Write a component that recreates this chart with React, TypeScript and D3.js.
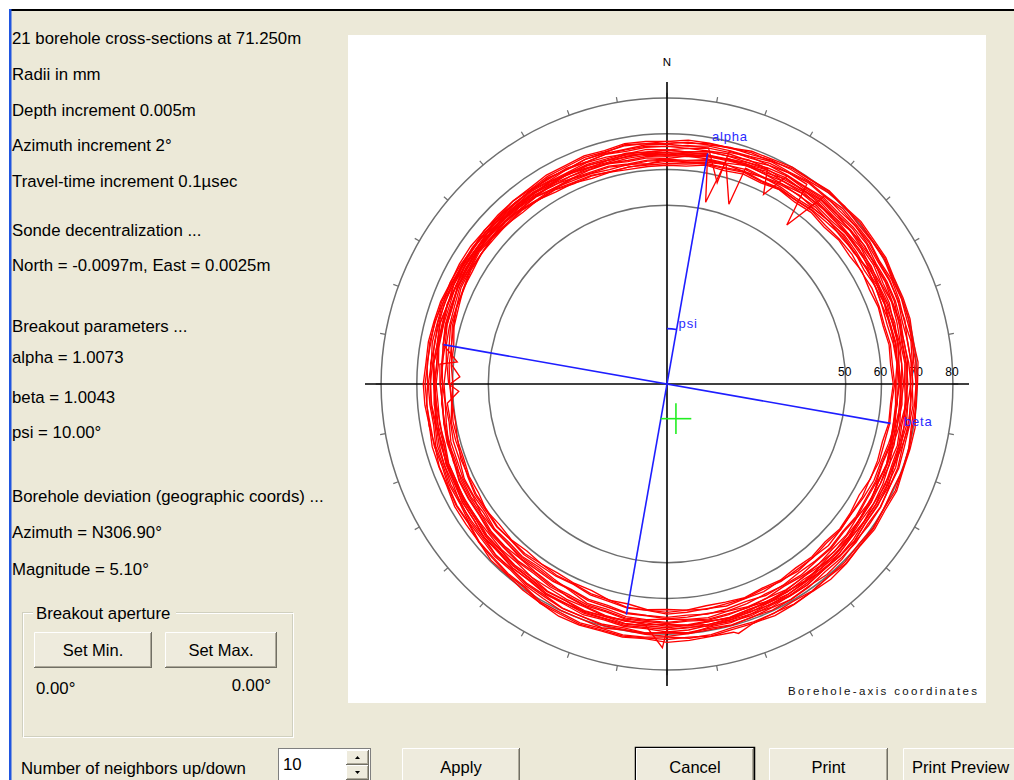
import React from 'react';
import * as d3 from 'd3';

// ---------- text content ----------
const infoLines = [
  '21 borehole cross-sections at 71.250m',
  'Radii in mm',
  'Depth increment 0.005m',
  'Azimuth increment 2°',
  'Travel-time increment 0.1µsec',
  'Sonde decentralization ...',
  'North = -0.0097m, East = 0.0025m',
  'Breakout parameters ...',
  'alpha = 1.0073',
  'beta = 1.0043',
  'psi =  10.00°',
  'Borehole deviation (geographic coords) ...',
  'Azimuth = N306.90°',
  'Magnitude = 5.10°',
];
const infoBaselines = [44, 80, 116, 151, 187, 236, 271, 332, 363, 403, 438, 502, 538, 575];

const ringRadii = [50, 60, 70, 80];
const ringLabels = ['50', '60', '70', '80'];
const axisExtent = 84.5; // mm
const apertureMin = '0.00°';
const apertureMax = '0.00°';
const neighbors = '10';

// breakout geometry (mm / degrees, borehole-axis coords)
const psiDeg = 10;
const alphaLen = 65.5;
const betaLen = 63.5;
const psiArcRadius = 15.5;
const sondeNorth = -9.7; // mm
const sondeEast = 2.5; // mm
const crossArm = 4.3; // mm

// ---------- cross-section radii, tenths of mm, every 5° azimuth from N ----------
const section01 = [612,612,622,618,625,621,628,622,627,621,627,624,630,625,629,626,631,628,633,628,630,624,627,628,621,627,631,625,631,628,634,630,636,632,630,635,631,634,625,626,615,615,611,614,610,616,612,617,609,611,606,607,601,603,599,606,606,617,621,629,629,635,632,633,627,629,621,620,612,614,610,611];
const section02 = [623,622,630,636,632,638,636,633,639,643,637,642,637,644,640,638,643,646,639,642,643,648,654,652,656,650,656,654,659,657,654,661,663,658,664,661,658,662,661,652,653,639,631,625,630,626,630,622,625,626,618,619,615,617,611,618,619,627,627,636,637,642,637,640,637,631,633,627,626,621,624,619];
const section03 = [631,640,640,640,650,648,646,653,651,648,654,657,651,654,650,654,657,651,653,656,650,653,656,649,660,660,664,670,667,674,671,669,675,679,673,676,678,671,674,670,663,657,647,642,638,642,642,635,636,636,629,633,627,623,628,632,630,637,639,645,641,646,648,642,644,641,642,634,637,638,632,635];
const section04 = [648,646,655,654,654,661,666,662,666,661,668,665,667,662,669,666,663,668,665,670,663,667,661,666,668,664,669,668,673,667,673,673,671,677,675,679,673,676,671,673,677,677,679,672,672,665,668,661,661,654,657,653,656,650,653,657,652,657,652,658,655,654,650,652,649,651,645,650,645,642,647,649];
const section05 = [655,662,662,667,665,675,674,674,681,678,681,682,675,679,680,677,673,679,682,676,680,675,681,679,681,678,685,682,680,686,686,684,690,688,685,691,694,687,689,683,687,680,679,670,672,667,668,660,661,657,658,651,657,652,649,655,653,658,653,658,660,655,657,658,655,659,655,654,659,657,654,659];
const section06 = [671,668,676,676,678,687,685,691,688,695,692,693,687,693,691,687,693,689,686,691,687,680,675,683,679,678,684,683,680,686,685,690,685,691,690,701,706,703,699,706,700,700,693,689,680,682,676,676,669,671,667,670,663,666,668,662,667,665,667,662,664,665,661,665,662,662,666,662,669,668,667,672];
const section07 = [679,685,684,684,693,694,701,699,706,702,708,705,707,701,703,704,699,705,701,698,705,704,703,709,705,709,705,710,713,709,712,715,711,719,717,720,723,715,719,715,718,717,708,704,697,697,687,686,686,679,679,680,675,680,682,677,678,675,674,669,671,671,667,669,669,669,675,674,679,676,683,681];
const section08 = [617,618,627,627,633,627,632,628,634,636,641,639,648,643,649,647,651,646,649,644,648,642,637,639,635,631,634,639,634,639,635,641,639,643,638,641,644,636,637,630,628,619,621,620,623,618,622,618,620,615,610,612,613,605,608,612,612,622,626,629,637,635,638,635,635,628,629,622,621,614,617,615];
const section09 = [629,628,637,638,643,639,646,643,646,642,648,646,644,649,648,644,649,647,651,645,647,649,643,647,645,649,645,650,648,653,651,649,654,657,652,655,657,651,652,646,645,636,638,635,637,631,633,634,627,629,625,626,619,622,624,620,627,630,633,640,640,645,640,643,639,640,633,634,630,631,625,629];
const section10 = [637,646,646,651,649,657,654,659,655,661,659,663,657,660,662,656,661,659,662,657,661,655,662,659,660,658,664,662,665,661,667,670,664,668,671,666,670,667,668,660,661,655,655,648,650,647,648,641,642,642,635,637,634,630,635,638,636,642,643,644,650,647,650,647,649,643,645,641,643,638,641,643];
const section11 = [653,652,660,660,660,667,672,668,673,672,669,675,671,674,671,675,669,672,674,668,674,672,675,670,674,673,671,677,680,675,679,682,678,683,682,685,687,679,682,678,679,670,671,665,665,658,660,655,656,649,651,647,644,648,650,646,650,650,654,651,656,654,651,655,653,655,649,653,651,648,653,652];
const section12 = [665,662,670,671,677,675,682,682,688,684,688,685,682,686,688,681,684,686,681,685,684,682,687,686,689,685,690,689,687,693,696,691,695,698,694,698,696,699,693,696,693,692,683,682,676,677,668,668,668,661,663,660,656,661,663,658,661,660,663,659,661,663,658,661,659,662,657,663,661,665,661,665];
const section13 = [673,679,679,685,684,691,693,693,700,703,697,699,701,695,698,695,698,693,697,695,694,700,702,697,700,703,699,704,703,707,703,708,708,706,712,714,708,711,713,708,711,706,705,693,692,687,686,677,679,675,670,674,672,675,670,674,671,673,666,670,667,663,668,665,669,665,670,670,675,672,677,675];
const section14 = [626,626,635,635,639,636,642,645,640,643,645,641,645,643,641,647,645,648,643,647,643,646,641,644,642,646,642,647,646,644,650,653,647,651,654,649,653,650,650,641,641,634,635,630,633,631,633,627,633,632,636,630,634,631,634,630,636,638,638,646,645,648,640,643,638,639,630,632,627,628,622,626];
const section15 = [665,670,670,675,673,681,682,688,685,690,688,690,685,688,686,689,683,686,688,683,688,687,690,686,690,689,687,693,696,691,695,698,694,699,698,701,696,700,697,699,693,693,687,685,676,678,672,672,665,667,663,665,659,663,661,664,659,664,661,664,660,664,662,664,659,664,662,666,661,666,665,668];
const section16 = [639,639,647,647,652,648,654,654,658,654,658,656,660,654,658,660,655,659,657,660,654,658,656,659,654,659,658,663,658,662,665,661,666,665,668,663,667,664,665,657,657,650,651,644,647,644,645,639,640,640,633,635,631,633,628,633,635,641,640,647,646,650,645,648,645,646,639,641,638,640,635,639];
const section17 = [655,652,660,661,667,665,672,672,677,673,677,674,671,676,677,671,674,676,671,675,674,677,672,677,675,673,679,682,677,681,684,680,685,684,688,683,687,684,686,680,682,676,676,666,667,663,663,655,657,653,654,647,651,648,651,647,651,651,654,651,655,653,656,650,654,652,654,650,654,652,656,651];
const section18 = [643,651,651,652,659,663,659,664,661,657,654,652,655,650,655,653,656,651,655,653,655,650,654,652,656,658,668,671,667,672,671,675,671,676,675,678,673,676,672,673,665,665,660,660,653,655,651,652,651,653,655,656,651,654,652,656,646,647,647,652,648,653,651,653,647,650,647,649,643,647,645,648];
const section19 = [629,623,624,624,630,625,629,628,632,627,630,632,628,633,632,630,635,633,637,631,633,630,632,627,631,630,634,630,635,634,638,634,638,637,640,635,639,635,635,625,624,617,618,614,619,617,620,615,617,613,614,606,608,604,607,604,613,618,627,627,634,634,637,631,633,628,627,618,619,615,616,618];
const section20 = [679,676,683,683,689,688,697,698,704,700,704,701,704,697,699,700,695,699,697,700,697,702,701,705,700,705,704,709,704,708,711,707,712,711,716,711,715,713,716,712,715,710,709,696,695,690,688,679,681,677,678,672,676,674,677,672,674,671,671,666,662,660,663,657,662,661,665,663,669,670,680,675];
const section21 = [643,642,650,650,655,652,663,663,671,667,671,669,673,667,670,672,667,671,669,672,667,671,669,673,668,672,671,676,672,676,679,675,680,679,683,678,682,679,680,673,675,669,669,660,662,658,658,651,653,649,650,643,646,643,646,642,648,648,653,650,654,653,656,650,653,650,653,647,650,648,651,645];

const sections = [
  section01, section02, section03, section04, section05, section06, section07,
  section08, section09, section10, section11, section12, section13, section14,
  section15, section16, section17, section18, section19, section20, section21,
];
const sampleStepDeg = 5;

// isolated spikes (section number, azimuth °, radius mm)
const spikeSection = [4, 9, 15, 12, 17, 2, 19, 10, 11, 7];
const spikeAz = [12, 19, 14, 37, 27, 268, 272, 276, 181, 164];
const spikeR = [52.0, 53.2, 58.0, 55.7, 59.5, 58.3, 58.0, 59.0, 73.8, 72.6];

// ---------- layout ----------
const W = 1014;
const H = 780;
const cx = 667;
const cy = 384;
const BG = '#ECE9D8';
const UIFONT = '"Liberation Sans", Arial, sans-serif';
const INFO_SIZE = 16.8;

const rScale = d3.scaleLinear().domain([0, axisExtent]).range([0, 302]);
const rad = (deg: number) => (deg * Math.PI) / 180;
const polar = (az: number, r: number): [number, number] => [
  cx + rScale(r) * Math.sin(rad(az)),
  cy - rScale(r) * Math.cos(rad(az)),
];

function Button({ x, y, w, h, label, isDefault = false, anchorX, textY }: any) {
  return (
    <g>
      {isDefault && <rect x={x - 0.5} y={y - 0.5} width={w + 1} height={h + 1} fill="none" stroke="#000" strokeWidth={1.5} />}
      <rect x={x} y={y} width={w} height={h} fill="#EEEBDD" />
      <line x1={x + 0.5} y1={y + 0.5} x2={x + w - 1} y2={y + 0.5} stroke="#fff" />
      <line x1={x + 0.5} y1={y + 0.5} x2={x + 0.5} y2={y + h - 1} stroke="#fff" />
      <line x1={x + w - 0.5} y1={y} x2={x + w - 0.5} y2={y + h} stroke="#716F64" />
      <line x1={x} y1={y + h - 0.5} x2={x + w} y2={y + h - 0.5} stroke="#716F64" />
      <line x1={x + w - 1.5} y1={y + 1} x2={x + w - 1.5} y2={y + h - 1} stroke="#ACA899" />
      <line x1={x + 1} y1={y + h - 1.5} x2={x + w - 1} y2={y + h - 1.5} stroke="#ACA899" />
      <text
        x={anchorX ?? x + w / 2}
        y={textY ?? y + h / 2 + 6}
        textAnchor={anchorX ? 'start' : 'middle'}
        fontFamily={UIFONT}
        fontSize={16.5}
        fill="#000"
      >
        {label}
      </text>
    </g>
  );
}

export default function App() {
  const line = d3
    .lineRadial<[number, number]>()
    .angle((d) => rad(d[0]))
    .radius((d) => rScale(d[1]))
    .curve(d3.curveLinearClosed);

  const curves = sections.map((vals, si) => {
    const pts: [number, number][] = vals.map((v, i) => [i * sampleStepDeg, v / 10]);
    spikeSection.forEach((s, k) => {
      if (s === si + 1) pts.push([spikeAz[k], spikeR[k]]);
    });
    pts.sort((a, b) => a[0] - b[0]);
    return line(pts) as string;
  });

  const ticks = d3.range(0, 360, 10);
  const outer = ringRadii[ringRadii.length - 1];

  const [aTopX, aTopY] = polar(psiDeg, alphaLen);
  const [aBotX, aBotY] = polar(psiDeg + 180, alphaLen);
  const [bRX, bRY] = polar(psiDeg + 90, betaLen);
  const [bLX, bLY] = polar(psiDeg + 270, betaLen);

  const psiArc = d3
    .arc()
    .innerRadius(rScale(psiArcRadius))
    .outerRadius(rScale(psiArcRadius))
    .startAngle(0)
    .endAngle(rad(psiDeg));
  const [psiEndX, psiEndY] = polar(psiDeg, psiArcRadius);

  const crossX = cx + rScale(sondeEast);
  const crossY = cy - rScale(sondeNorth);

  return (
    <div style={{ position: 'fixed', left: 0, top: 0 }}>
      <svg width={W} height={H} style={{ display: 'block' }}>
        <rect x={0} y={0} width={W} height={H} fill="#fff" />
        <rect x={10} y={10} width={W - 10} height={H - 10} fill={BG} />
        <rect x={9} y={9} width={W - 9} height={2} fill="#000" />
        <rect x={9} y={9} width={2.5} height={H - 9} fill="#1F55E0" />

        {/* info text */}
        {infoLines.map((t, i) => (
          <text key={i} x={12} y={infoBaselines[i]} fontFamily={UIFONT} fontSize={INFO_SIZE} fill="#000">
            {t}
          </text>
        ))}

        {/* group box */}
        <rect x={22.5} y={612.5} width={270} height={124} fill="none" stroke="#D0D0BF" />
        <rect x={23.5} y={613.5} width={270} height={124} fill="none" stroke="#fff" />
        <rect x={33} y={604} width={143} height={18} fill={BG} />
        <text x={36} y={619} fontFamily={UIFONT} fontSize={INFO_SIZE} fill="#000">Breakout aperture</text>
        <Button x={34} y={632} w={118} h={36} label="Set Min." textY={656} />
        <Button x={165} y={632} w={112} h={36} label="Set Max." textY={656} />
        <text x={36} y={694} fontFamily={UIFONT} fontSize={INFO_SIZE} fill="#000">{apertureMin}</text>
        <text x={271} y={691} textAnchor="end" fontFamily={UIFONT} fontSize={INFO_SIZE} fill="#000">{apertureMax}</text>

        {/* bottom row */}
        <text x={21} y={774} fontFamily={UIFONT} fontSize={INFO_SIZE} fill="#000">Number of neighbors up/down</text>
        <rect x={278.5} y={748.5} width={92} height={34} fill="#fff" stroke="#7F7F7F" />
        <text x={283} y={770} fontFamily={UIFONT} fontSize={INFO_SIZE} fill="#000">{neighbors}</text>
        <Button x={346} y={750} w={23} h={15} label="" />
        <Button x={346} y={765} w={23} h={15} label="" />
        <path d="M355,759 L360,759 L357.5,756 Z" fill="#000" />
        <path d="M355,771 L360,771 L357.5,774 Z" fill="#000" />
        <Button x={402} y={748} w={118} h={44} label="Apply" textY={773} />
        <Button x={636} y={748} w={118} h={44} label="Cancel" isDefault textY={773} />
        <Button x={769} y={748} w={119} h={44} label="Print" textY={773} />
        <Button x={903} y={748} w={120} h={44} label="Print Preview" anchorX={912} textY={773} />

        {/* plot area */}
        <rect x={348} y={35} width={638} height={668} fill="#fff" />

        {/* rings */}
        {ringRadii.map((r) => (
          <circle key={r} cx={cx} cy={cy} r={rScale(r)} fill="none" stroke="#6E6E6E" strokeWidth={1.5} />
        ))}
        {ticks.map((a) => {
          const [x1, y1] = polar(a, outer);
          const [x2, y2] = polar(a, outer + 1.5);
          return <line key={a} x1={x1} y1={y1} x2={x2} y2={y2} stroke="#6E6E6E" strokeWidth={1.2} />;
        })}

        {/* axes */}
        <line x1={cx - rScale(axisExtent)} y1={cy} x2={cx + rScale(axisExtent)} y2={cy} stroke="#000" strokeWidth={1.6} />
        <line x1={cx} y1={cy - rScale(axisExtent)} x2={cx} y2={cy + rScale(axisExtent)} stroke="#000" strokeWidth={1.6} />
        <text x={cx} y={66} textAnchor="middle" fontFamily={UIFONT} fontSize={11.5} fill="#000">N</text>
        {ringRadii.map((r, i) => (
          <text key={r} x={cx + rScale(r) - 1} y={376} textAnchor="middle" fontFamily={UIFONT} fontSize={12} fill="#000">
            {ringLabels[i]}
          </text>
        ))}

        {/* cross-sections */}
        <g transform={`translate(${cx},${cy})`}>
          {curves.map((d, i) => (
            <path key={i} d={d} fill="none" stroke="#FF0000" strokeWidth={1.35} strokeLinejoin="miter" />
          ))}
        </g>

        {/* breakout axes */}
        <g stroke="#1E1EFF" strokeWidth={1.6} fill="none">
          <line x1={aBotX} y1={aBotY} x2={aTopX} y2={aTopY} />
          <line x1={bLX} y1={bLY} x2={bRX} y2={bRY} />
          <path d={psiArc(null as any) as string} transform={`translate(${cx},${cy})`} />
        </g>
        <g fontFamily={UIFONT} fontSize={13} fill="#2A2AFF" letterSpacing={0.8}>
          <text x={712} y={141}>alpha</text>
          <text x={904} y={426}>beta</text>
          <text x={psiEndX + 2} y={psiEndY - 1}>psi</text>
        </g>

        {/* sonde position */}
        <g stroke="#22EE22" strokeWidth={1.6}>
          <line x1={crossX - rScale(crossArm)} y1={crossY} x2={crossX + rScale(crossArm)} y2={crossY} />
          <line x1={crossX} y1={crossY - rScale(crossArm)} x2={crossX} y2={crossY + rScale(crossArm)} />
        </g>

        <text x={788} y={695} fontFamily={UIFONT} fontSize={11.5} fill="#111" textLength={189} lengthAdjust="spacing">
          Borehole-axis coordinates
        </text>
      </svg>
    </div>
  );
}
